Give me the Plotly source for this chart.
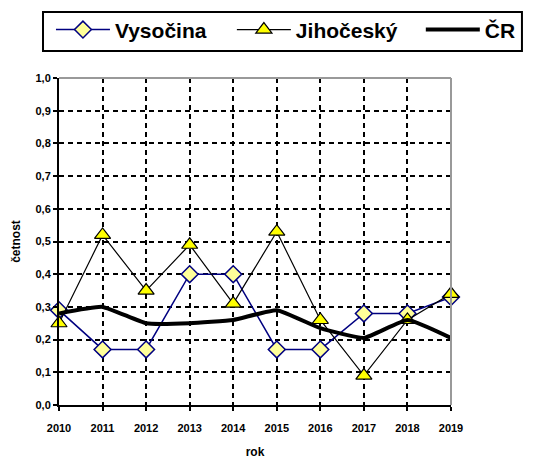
import plotly.graph_objects as go

years = [2010, 2011, 2012, 2013, 2014, 2015, 2016, 2017, 2018, 2019]
vysocina = [0.29, 0.17, 0.17, 0.40, 0.40, 0.17, 0.17, 0.28, 0.28, 0.33]
jihocesky = [0.25, 0.52, 0.35, 0.49, 0.31, 0.53, 0.26, 0.09, 0.26, 0.34]
cr = [0.28, 0.30, 0.25, 0.25, 0.26, 0.29, 0.235, 0.205, 0.26, 0.205]
y_ticks = [0.0, 0.1, 0.2, 0.3, 0.4, 0.5, 0.6, 0.7, 0.8, 0.9, 1.0]

FONT = "Liberation Sans, Arial, sans-serif"

fig = go.Figure()
fig.add_trace(go.Scatter(
    x=years, y=vysocina, name="Vysočina", mode="lines+markers",
    line=dict(color="#000080", width=1.5),
    marker=dict(symbol="diamond", size=13, color="#FFFF99",
                line=dict(color="#000080", width=1.5)),
    cliponaxis=False, legend="legend",
))
fig.add_trace(go.Scatter(
    x=years, y=jihocesky, name="Jihočeský", mode="lines+markers",
    line=dict(color="black", width=1.2),
    marker=dict(symbol="triangle-up", size=14, color="#FFFF00",
                line=dict(color="black", width=1.2)),
    cliponaxis=False, legend="legend2",
))
fig.add_trace(go.Scatter(
    x=years, y=cr, name="ČR", mode="lines",
    line=dict(color="black", width=4, shape="spline", smoothing=0.4),
    cliponaxis=False, legend="legend3",
))

leg_common = dict(
    orientation="h", yanchor="middle", y=1.147, xanchor="left",
    borderwidth=0, bgcolor="rgba(0,0,0,0)",
    font=dict(family=FONT, size=21, weight="bold", color="black"),
    itemwidth=54,
)

fig.update_layout(
    width=530, height=452,
    margin=dict(l=51, r=87, t=70, b=55, autoexpand=False),
    paper_bgcolor="white", plot_bgcolor="white",
    separators=", ",
    font=dict(family=FONT, color="black", size=11, weight="bold"),
    showlegend=True,
    legend=dict(leg_common, x=-0.0205),
    legend2=dict(leg_common, x=0.441),
    legend3=dict(leg_common, x=0.923),
    xaxis=dict(
        range=[2010, 2019], tickmode="array", tickvals=years,
        ticktext=[str(y) for y in years],
        showgrid=True, gridcolor="black", gridwidth=2, griddash="5px,4px",
        showline=True, linecolor="black", linewidth=2,
        ticks="outside", ticklen=4, tickwidth=1.5, tickcolor="black",
        zeroline=False, ticklabelstandoff=8,
        tickfont=dict(family=FONT, size=11, weight="bold"),
        title=dict(text="rok", font=dict(family=FONT, size=12, weight="bold"), standoff=14),
    ),
    yaxis=dict(
        range=[0, 1.0], tickmode="array", tickvals=y_ticks,
        tickformat=".1f",
        showgrid=True, gridcolor="black", gridwidth=2, griddash="5px,4px",
        showline=True, linecolor="black", linewidth=2,
        ticks="outside", ticklen=4, tickwidth=1.5, tickcolor="black",
        zeroline=False,
        tickfont=dict(family=FONT, size=11, weight="bold"),
        title=dict(text="četnost", font=dict(family=FONT, size=12, weight="bold"), standoff=12),
    ),
    shapes=[
        dict(type="line", xref="paper", yref="paper", x0=0, x1=1, y0=1, y1=1,
             line=dict(color="#999999", width=2), layer="above"),
        dict(type="line", xref="paper", yref="paper", x0=1, x1=1, y0=0, y1=1,
             line=dict(color="#999999", width=2), layer="above"),
        dict(type="rect", xref="paper", yref="paper",
             x0=-0.0408, x1=1.181, y0=1.0826, y1=1.2018,
             line=dict(color="black", width=2), fillcolor="rgba(0,0,0,0)",
             layer="above"),
    ],
)

fig.write_html("out.html")
